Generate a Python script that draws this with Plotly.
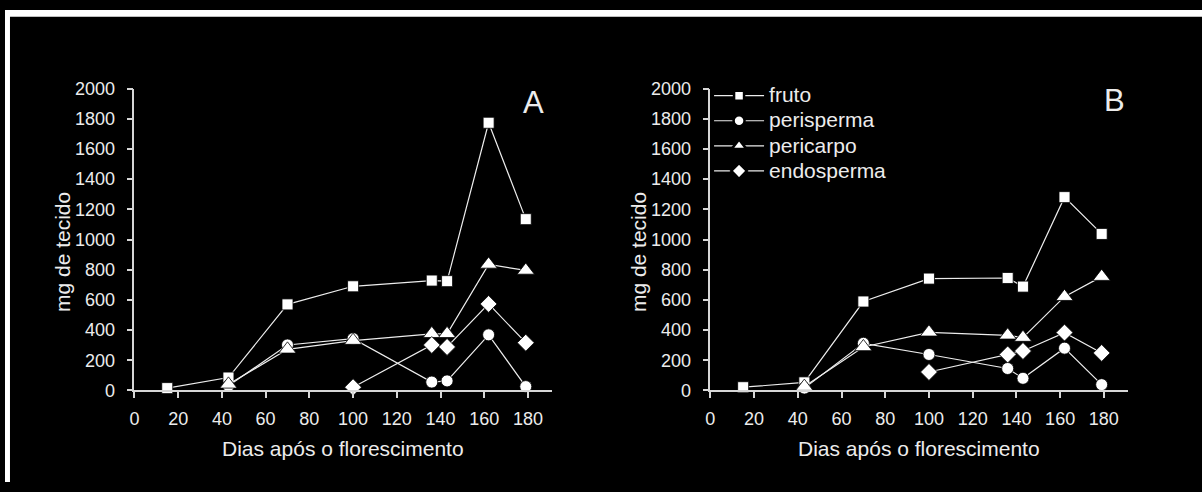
import plotly.graph_objects as go

# Sampling days (days after flowering)
days_fruto = [15, 43, 70, 100, 136, 143, 162, 179]
days_tecido = [43, 70, 100, 136, 143, 162, 179]
days_endo = [100, 136, 143, 162, 179]

# Panel A (mg de tecido)
fruto_a = [15, 85, 570, 690, 728, 724, 1774, 1135]
perisperma_a = [30, 301, 343, 55, 63, 368, 25]
pericarpo_a = [40, 272, 330, 375, 375, 835, 795]
endosperma_a = [21, 301, 288, 573, 316]

# Panel B (mg de tecido)
fruto_b = [21, 53, 589, 741, 745, 688, 1281, 1037]
perisperma_b = [15, 312, 238, 145, 80, 280, 38]
pericarpo_b = [25, 288, 385, 365, 350, 621, 754]
endosperma_b = [122, 238, 261, 383, 248]

series_names = ["fruto", "perisperma", "pericarpo", "endosperma"]
symbols = ["square", "circle", "triangle-up", "diamond"]
marker_sizes = [11, 12, 15, 13]
legend_sizes = [10, 11, 13, 12]

x_ticks = list(range(0, 181, 20))
y_ticks = list(range(0, 2001, 200))

FONT = "Liberation Sans, Arial, sans-serif"
FG = "#ececec"
AX = "#d6d6d6"
W, H = 1202, 492

fig = go.Figure()

panels = [
    ("x", "y", [(days_fruto, fruto_a), (days_tecido, perisperma_a),
                (days_tecido, pericarpo_a), (days_endo, endosperma_a)]),
    ("x2", "y2", [(days_fruto, fruto_b), (days_tecido, perisperma_b),
                  (days_tecido, pericarpo_b), (days_endo, endosperma_b)]),
]

for xa, ya, data in panels:
    for i, (xs, ys) in enumerate(data):
        fig.add_trace(go.Scatter(
            x=xs, y=ys, xaxis=xa, yaxis=ya, mode="lines+markers",
            name=series_names[i], showlegend=False, cliponaxis=False,
            line=dict(color=FG, width=1.2),
            marker=dict(symbol=symbols[i], size=marker_sizes[i], color="white",
                        line=dict(color="black", width=0.8)),
        ))

# Legend entries (smaller keys, drawn in panel B)
for i, name in enumerate(series_names):
    fig.add_trace(go.Scatter(
        x=[None], y=[None], xaxis="x2", yaxis="y2", mode="lines+markers",
        name=f"<span style='font-size:21px'>{name}</span>", showlegend=True,
        line=dict(color=FG, width=1.2),
        marker=dict(symbol=symbols[i], size=legend_sizes[i], color="white",
                    line=dict(color="black", width=2.5)),
    ))

axis_common = dict(
    showline=True, linecolor=AX, linewidth=1.5, showgrid=False, zeroline=False,
    ticks="outside", ticklen=6, tickwidth=1.5, tickcolor=AX,
    tickfont=dict(family=FONT, size=18, color=FG),
)

y_dom = [(H - 396.5) / H, (H - 82) / H]
xa_dom = [130 / W, 549.3 / W]
xb_dom = [708.3 / W, 1127.6 / W]

fig.update_layout(
    width=W, height=H,
    margin=dict(l=0, r=0, t=0, b=0),
    paper_bgcolor="black", plot_bgcolor="black",
    font=dict(family=FONT, color=FG),
    xaxis=dict(domain=xa_dom, range=[0, 191], tickvals=x_ticks, anchor="y",
               ticklabelstandoff=5, **axis_common),
    yaxis=dict(domain=y_dom, range=[0, 2000], tickvals=y_ticks, anchor="x",
               ticklabelstandoff=8, **axis_common),
    xaxis2=dict(domain=xb_dom, range=[0, 191], tickvals=x_ticks, anchor="y2",
                ticklabelstandoff=5, **axis_common),
    yaxis2=dict(domain=y_dom, range=[0, 2000], tickvals=y_ticks, anchor="x2",
                ticklabelstandoff=8, **axis_common),
    legend=dict(x=707 / W, y=(H - 71) / H, xanchor="left", yanchor="top",
                bgcolor="rgba(0,0,0,0)", font=dict(family=FONT, size=17, color=FG),
                itemwidth=50, tracegroupgap=0),
    showlegend=True,
)

# White strips along the top and left edges
fig.add_shape(type="rect", xref="paper", yref="paper", x0=0, x1=1,
              y0=(H - 7) / H, y1=1, fillcolor="white", line_width=0, layer="above")
fig.add_shape(type="rect", xref="paper", yref="paper", x0=0, x1=5 / W,
              y0=0, y1=1, fillcolor="white", line_width=0, layer="above")

title_font = dict(family=FONT, size=21, color=FG)
for cx in [(130 + 549.3) / 2, (708.3 + 1127.6) / 2]:
    fig.add_annotation(text="Dias após o florescimento", xref="paper", yref="paper",
                       x=cx / W, y=(H - 457) / H, showarrow=False,
                       xanchor="center", yanchor="middle", font=title_font)
for cx in [57.5, 636]:
    fig.add_annotation(text="mg de tecido", xref="paper", yref="paper",
                       x=cx / W, y=(H - 252) / H, showarrow=False, textangle=-90,
                       xanchor="center", yanchor="middle", font=title_font)

letter_font = dict(family=FONT, size=31, color=FG)
fig.add_annotation(text="A", xref="paper", yref="paper", x=531 / W, y=(H - 96) / H,
                   showarrow=False, xanchor="center", yanchor="middle", font=letter_font)
fig.add_annotation(text="B", xref="paper", yref="paper", x=1114 / W, y=(H - 94) / H,
                   showarrow=False, xanchor="center", yanchor="middle", font=letter_font)

fig.write_html("out.html")
